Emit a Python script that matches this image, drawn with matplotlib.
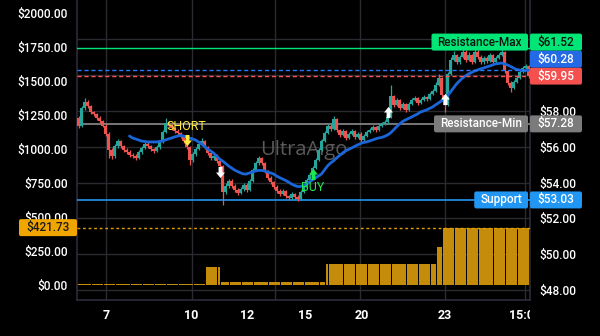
"""Price pane: candles, 18-bar average, AI levels, signals and the volume step pane."""
import numpy as np
import matplotlib
matplotlib.use("Agg")
import matplotlib.pyplot as plt
from matplotlib.path import Path
from matplotlib.patches import FancyBboxPatch
from matplotlib.transforms import (IdentityTransform, Bbox, TransformedBbox,
                                   blended_transform_factory)

plt.rcParams["font.family"] = ["Roboto", "DejaVu Sans"]

BG = "#000000"
GRID = "#2a2a30"
SPINE = "#2b2b3d"
UP = "#26a69a"
DOWN = "#ef5350"

# ---- OHLC (one value per bar) ----
opens = [
    57.60, 57.16, 58.17, 58.50, 58.28, 57.94, 57.83, 57.61, 57.44, 57.16,
    56.72, 55.82, 55.49, 56.04, 56.32, 56.04, 55.82, 55.71, 55.54, 55.49,
    55.37, 55.71, 55.93, 56.16, 56.04, 55.88, 55.77, 55.99, 56.27, 56.83,
    57.33, 57.16, 57.05, 56.88, 56.77, 56.60, 56.32, 55.99, 55.26, 55.60,
    55.88, 56.16, 56.32, 55.99, 55.65, 55.37, 55.49, 55.21, 54.93, 53.47,
    53.81, 54.09, 53.81, 53.59, 53.42, 53.64, 53.87, 53.59, 54.09, 54.70,
    55.09, 55.37, 55.09, 54.65, 54.26, 54.03, 53.75, 53.53, 53.36, 53.53,
    53.25, 53.14, 53.36, 53.20, 53.08, 53.47, 53.81, 54.15, 54.42, 54.82,
    55.26, 55.82, 56.32, 56.77, 57.16, 56.99, 57.55, 56.94, 56.66, 56.88,
    56.49, 56.72, 56.88, 56.55, 56.72, 56.38, 56.60, 56.83, 56.94, 57.11,
    56.94, 57.16, 57.27, 57.39, 57.66, 58.84, 58.34, 58.61, 58.17, 58.39,
    58.06, 58.39, 58.61, 58.73, 58.45, 58.61, 58.78, 58.67, 58.95, 59.12,
    59.45, 59.84, 58.89, 58.34, 60.07, 60.85, 61.13, 60.74, 61.02, 61.30,
    60.85, 61.13, 60.74, 61.30, 61.02, 60.74, 60.96, 60.79, 61.13, 60.74,
    60.96, 61.13, 61.30, 60.23, 59.56, 59.28, 59.62, 59.84, 60.18, 60.40, 60.51,
]
highs = [
    57.72, 58.30, 58.73, 58.62, 58.35, 58.02, 57.90, 57.70, 57.52, 57.25,
    56.80, 55.95, 56.15, 56.45, 56.40, 56.12, 55.92, 55.80, 55.65, 55.58,
    55.80, 56.02, 56.28, 56.25, 56.12, 55.95, 56.08, 56.35, 56.95, 57.61,
    57.45, 57.25, 57.12, 56.98, 56.85, 56.68, 56.40, 56.05, 55.70, 55.98,
    56.25, 56.49, 56.40, 56.05, 55.72, 55.60, 55.58, 55.30, 55.00, 53.95,
    54.22, 54.18, 53.90, 53.68, 53.75, 53.98, 53.95, 54.20, 54.82, 55.20,
    55.49, 55.45, 55.15, 54.72, 54.35, 54.10, 53.85, 53.62, 53.65, 53.60,
    53.32, 53.45, 53.44, 53.28, 53.58, 53.92, 54.26, 54.55, 54.95, 55.38,
    55.95, 56.45, 56.90, 57.30, 57.25, 57.72, 57.60, 57.02, 56.98, 56.95,
    56.82, 56.98, 56.95, 56.82, 56.80, 56.70, 56.92, 57.05, 57.22, 57.18,
    57.26, 57.38, 57.50, 57.78, 59.45, 58.92, 58.72, 58.68, 58.50, 58.45,
    58.50, 58.72, 58.85, 58.80, 58.72, 58.90, 58.86, 59.06, 59.25, 59.60,
    60.05, 59.90, 58.95, 60.20, 61.00, 61.35, 61.20, 61.15, 61.48, 61.38,
    61.28, 61.20, 61.45, 61.38, 61.10, 61.08, 61.05, 61.25, 61.20, 61.08,
    61.25, 61.45, 61.35, 60.30, 59.65, 59.75, 59.95, 60.28, 60.52, 60.65, 60.58,
]
lows = [
    57.05, 57.10, 58.05, 58.18, 57.85, 57.72, 57.52, 57.35, 57.08, 56.60,
    55.40, 55.30, 55.40, 55.95, 55.95, 55.70, 55.60, 55.45, 55.38, 55.25,
    55.30, 55.62, 55.85, 55.95, 55.78, 55.65, 55.70, 55.90, 56.20, 56.75,
    57.05, 56.95, 56.78, 56.68, 56.50, 56.22, 55.88, 54.98, 55.15, 55.50,
    55.80, 56.08, 55.90, 55.55, 55.25, 55.28, 55.10, 54.82, 52.75, 53.35,
    53.72, 53.70, 53.48, 53.32, 53.35, 53.55, 53.48, 53.52, 54.02, 54.62,
    55.00, 54.98, 54.55, 54.15, 53.92, 53.65, 53.42, 53.25, 53.28, 53.14,
    53.03, 53.05, 53.10, 52.98, 53.00, 53.40, 53.72, 54.08, 54.35, 54.75,
    55.18, 55.75, 56.25, 56.70, 56.88, 56.92, 56.85, 56.55, 56.58, 56.40,
    56.42, 56.65, 56.45, 56.48, 56.28, 56.30, 56.52, 56.75, 56.88, 56.85,
    56.88, 57.08, 57.20, 57.30, 57.60, 58.25, 58.28, 58.08, 58.10, 57.96,
    58.00, 58.32, 58.55, 58.36, 58.38, 58.55, 58.58, 58.60, 58.88, 59.05,
    59.38, 58.75, 57.94, 58.28, 60.00, 60.78, 60.62, 60.65, 60.95, 60.75,
    60.78, 60.62, 60.68, 60.92, 60.62, 60.65, 60.70, 60.72, 60.65, 60.68,
    60.88, 61.05, 60.12, 59.45, 59.05, 59.20, 59.55, 59.78, 60.10, 60.35, 59.85,
]
closes = [
    57.16, 58.17, 58.50, 58.28, 57.94, 57.83, 57.61, 57.44, 57.16, 56.72,
    55.82, 55.49, 56.04, 56.32, 56.04, 55.82, 55.71, 55.54, 55.49, 55.37,
    55.71, 55.93, 56.16, 56.04, 55.88, 55.77, 55.99, 56.27, 56.83, 57.33,
    57.16, 57.05, 56.88, 56.77, 56.60, 56.32, 55.99, 55.26, 55.60, 55.88,
    56.16, 56.32, 55.99, 55.65, 55.37, 55.49, 55.21, 54.93, 53.47, 53.81,
    54.09, 53.81, 53.59, 53.42, 53.64, 53.87, 53.59, 54.09, 54.70, 55.09,
    55.37, 55.09, 54.65, 54.26, 54.03, 53.75, 53.53, 53.36, 53.53, 53.25,
    53.14, 53.36, 53.20, 53.08, 53.47, 53.81, 54.15, 54.42, 54.82, 55.26,
    55.82, 56.32, 56.77, 57.16, 56.99, 57.55, 56.94, 56.66, 56.88, 56.49,
    56.72, 56.88, 56.55, 56.72, 56.38, 56.60, 56.83, 56.94, 57.11, 56.94,
    57.16, 57.27, 57.39, 57.66, 58.84, 58.34, 58.61, 58.17, 58.39, 58.06,
    58.39, 58.61, 58.73, 58.45, 58.61, 58.78, 58.67, 58.95, 59.12, 59.45,
    59.84, 58.89, 58.34, 60.07, 60.85, 61.13, 60.74, 61.02, 61.30, 60.85,
    61.13, 60.74, 61.30, 61.02, 60.74, 60.96, 60.79, 61.13, 60.74, 60.96,
    61.13, 61.30, 60.23, 59.56, 59.28, 59.62, 59.84, 60.18, 60.40, 60.51, 59.95,
]

# moving average, defined for the last len(ma) bars
ma = [
    56.60, 56.49, 56.44, 56.38, 56.32, 56.30, 56.27, 56.27, 56.27, 56.27,
    56.30, 56.32, 56.38, 56.44, 56.49, 56.55, 56.60, 56.63, 56.60, 56.55,
    56.49, 56.44, 56.38, 56.27, 56.16, 56.02, 55.88, 55.77, 55.65, 55.49,
    55.32, 55.21, 55.07, 54.93, 54.82, 54.70, 54.62, 54.54, 54.48, 54.48,
    54.54, 54.59, 54.65, 54.68, 54.68, 54.65, 54.59, 54.54, 54.48, 54.37,
    54.28, 54.20, 54.12, 54.03, 53.92, 53.84, 53.78, 53.78, 53.84, 53.92,
    54.03, 54.15, 54.26, 54.37, 54.48, 54.70, 54.93, 55.09, 55.21, 55.37,
    55.51, 55.65, 55.77, 55.85, 55.93, 56.02, 56.10, 56.18, 56.24, 56.27,
    56.32, 56.38, 56.44, 56.49, 56.52, 56.58, 56.66, 56.77, 56.94, 57.11,
    57.27, 57.41, 57.50, 57.58, 57.66, 57.75, 57.83, 57.94, 58.00, 58.06,
    58.14, 58.22, 58.34, 58.45, 58.56, 58.67, 58.84, 59.06, 59.28, 59.51,
    59.68, 59.84, 59.96, 60.07, 60.15, 60.23, 60.29, 60.35, 60.40, 60.46,
    60.51, 60.57, 60.63, 60.65, 60.68, 60.63, 60.57, 60.49, 60.40, 60.32,
    60.29, 60.26, 60.26, 60.28,
]

# volume step bars: first bar index of each block and its value ($)
vol_start = [0, 5, 9, 13, 18, 22, 26, 30, 34, 39,
             43, 47,
             48, 51, 55, 59, 64, 68, 72, 76, 81,
             83, 84, 89, 93, 97, 101, 105, 110, 114, 118,
             120,
             122, 126, 130, 134, 139, 143, 147]
vol_value = [10] * 10 + [132, 132] + [24] * 9 + [154] * 10 + [282] + [421.73] * 7

# levels
res_max = 61.52
res_min = 57.28
support = 53.03

# signals (bar index, price)
short_sig = (36, 56.38)
buy_sig = (78, 54.48)
tp_down = [(47, 54.59)]
tp_up = [(103, 57.94), (122, 58.67)]

# axes
price_ticks = [48, 50, 52, 54, 56, 58, 60, 62]
price_labels = ["$48.00", "$50.00", "$52.00", "$54.00", "$56.00", "$58.00", "", ""]
vol_ticks = [0, 250, 500, 750, 1000, 1250, 1500, 1750, 2000]
x_tick_pos = [9.17, 37.67, 56.2, 75.5, 94.5, 122.2, 148.8]
x_tick_lab = ["7", "10", "12", "15", "20", "23", "15:00"]
x_grid = [9.17, 37.8, 65.5, 93.8, 122.2, 148.8]

n = len(closes)
x = np.arange(n)
o, h, l, c = (np.array(a) for a in (opens, highs, lows, closes))

fig = plt.figure(figsize=(6.0, 3.36), dpi=100, facecolor=BG)
ax_vol = fig.add_axes([77 / 600, 36 / 336, 453 / 600, 300 / 336])
ax_vol.set_facecolor(BG)
ax_px = ax_vol.twinx()

# grid sits on the bottom axes so the volume bars cover it
grid_tr = blended_transform_factory(ax_vol.transAxes, ax_px.transData)
for p in price_ticks:
    ax_vol.plot([0, 1], [p, p], transform=grid_tr, color=GRID, lw=1, zorder=0)
for g in x_grid:
    ax_vol.axvline(g, color=GRID, lw=1, zorder=0)

# volume blocks
starts = np.array(vol_start)
ends = np.append(starts[1:], n)
ax_vol.bar(starts - 0.5, vol_value, width=ends - starts - 0.3, align="edge",
           color="#c48c0a", lw=0, zorder=2)
ax_vol.axhline(vol_value[-1], color="#e0a000", lw=1, ls=(0, (2, 2)), zorder=3)
ax_vol.text(0.5, 0.5, "UltraAlgo", transform=ax_vol.transAxes, ha="center",
            va="center", color="#5a5a5a", fontsize=14.5, family="Open Sans", zorder=1)

# levels
ax_px.axhline(res_max, color="#00e676", lw=1, zorder=1)
ax_px.axhline(res_min, color="#8c8c8c", lw=1.2, zorder=1)
ax_px.axhline(support, color="#2196f3", lw=1.2, zorder=1)

# candles
cols = np.where(c >= o, UP, DOWN)
ax_px.vlines(x, l, h, colors=cols, lw=0.9, zorder=3)
body = np.maximum(np.abs(c - o), 0.04)
ax_px.bar(x, body, bottom=np.minimum(o, c), width=0.75, color=cols, lw=0, zorder=3)

# average and last-value markers
ma_x = np.arange(n - len(ma), n)
ax_px.plot(ma_x, ma, color="#1a66d9", lw=2, zorder=4, solid_capstyle="round")
ax_px.axhline(ma[-1], color="#2979ff", lw=1, ls=(0, (3, 2)), zorder=4)
ax_px.axhline(closes[-1], color="#ff5252", lw=1, ls=(0, (3, 2)), zorder=4)

# signal arrows
down_arrow = Path([(-0.35, 1), (0.35, 1), (0.35, 0), (0.8, 0), (0, -1),
                   (-0.8, 0), (-0.35, 0), (-0.35, 1)], closed=True)
up_arrow = Path([(vx, -vy) for vx, vy in down_arrow.vertices], closed=True)

ax_px.plot(*short_sig, marker=down_arrow, ms=8, color="#ffeb3b", mew=0, zorder=5)
ax_px.annotate("SHORT", short_sig, xytext=(0, 13), textcoords="offset pixels",
               ha="center", va="center", color="#ffeb3b", fontsize=9, zorder=5)
ax_px.plot(*buy_sig, marker=up_arrow, ms=8, color="#1ee84f", mew=0, zorder=5)
ax_px.annotate("BUY", buy_sig, xytext=(0, -14), textcoords="offset pixels",
               ha="center", va="center", color="#1ee84f", fontsize=9, zorder=5)
for px_, py_ in tp_down:
    ax_px.plot(px_, py_, marker=down_arrow, ms=8, color="white", mew=0, zorder=5)
for px_, py_ in tp_up:
    ax_px.plot(px_, py_, marker=up_arrow, ms=8, color="white", mew=0, zorder=5)

# limits and ticks
ax_vol.set_xlim(-0.5, n - 0.5)
ax_vol.set_ylim(-110.3, 2095.6)
ax_px.set_ylim(47.44, 64.20)

ax_vol.set_yticks(vol_ticks)
ax_vol.set_yticklabels([f"${v:.2f}" for v in vol_ticks])
ax_px.set_yticks(price_ticks)
ax_px.set_yticklabels(price_labels)
ax_vol.set_xticks(x_tick_pos)
ax_vol.set_xticklabels(x_tick_lab)
ax_vol.tick_params(axis="y", length=0, pad=6.5, labelcolor="white", labelsize=8.5)
ax_px.tick_params(axis="y", length=0, pad=7, labelcolor="white", labelsize=8.5)
ax_vol.tick_params(axis="x", length=0, pad=6.5, labelcolor="white", labelsize=9)
for lab in ax_vol.get_yticklabels() + ax_px.get_yticklabels():
    lab.set_fontweight("medium")
clip = TransformedBbox(Bbox([[0, -1], [1, 1]]), ax_vol.transAxes)
for lab in ax_vol.get_xticklabels():
    lab.set_fontweight("bold")
    lab.set_clip_box(clip)
    lab.set_clip_on(True)

for side, sp in ax_vol.spines.items():
    sp.set_visible(side != "top")
    sp.set_color(SPINE)
    sp.set_linewidth(1.2)
for sp in ax_px.spines.values():
    sp.set_visible(False)

# price tags (display pixels)
TAG_H = 17
fig.canvas.draw()
renderer = fig.canvas.get_renderer()


def tag(x0, yc, w, text, fc, tc):
    fig.add_artist(FancyBboxPatch((x0, yc - TAG_H / 2), w, TAG_H,
                                  boxstyle="round,pad=0,rounding_size=2",
                                  fc=fc, ec="none", transform=IdentityTransform(),
                                  zorder=5))
    fig.text(x0 + w / 2, yc, text, transform=IdentityTransform(), ha="center",
             va="center", color=tc, fontsize=8.5, fontweight="medium", zorder=6)


def text_width(s):
    t = fig.text(0, 0, s, fontsize=8.5, fontweight="medium")
    w = t.get_window_extent(renderer).width
    t.remove()
    return w


x_right = ax_vol.bbox.x1
tags = sorted([
    (support, "#2196f3", "white", "Support"),
    (res_min, "#7b7b7b", "white", "Resistance-Min"),
    (closes[-1], "#f4504e", "white", None),
    (ma[-1], "#2469e6", "white", None),
    (res_max, "#00e676", "#111111", "Resistance-Max"),
], key=lambda t: t[0])

prev = -1e9
for value, fc, tc, name in tags:
    yc = max(ax_px.transData.transform((0, value))[1], prev + TAG_H)
    prev = yc
    tag(x_right, yc, 52, f"${value:.2f}", fc, tc)
    if name:
        w = text_width(name) + 12
        tag(x_right - 2 - w, yc, w, name, fc, tc)

yv = ax_vol.transData.transform((0, vol_value[-1]))[1]
tag(ax_vol.bbox.x0 - 58, yv, 58, f"${vol_value[-1]:.2f}", "#f0a500", "#1a1a1a")

fig.savefig("out.png", dpi=100, facecolor=BG)
